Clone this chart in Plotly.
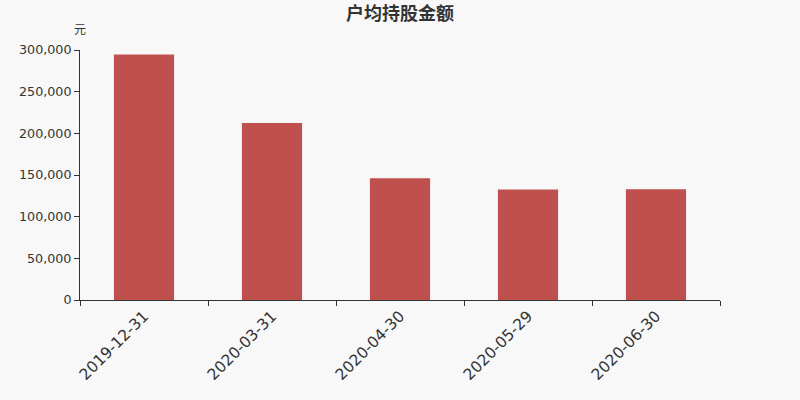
import plotly.graph_objects as go

dates = ["2019-12-31", "2020-03-31", "2020-04-30", "2020-05-29", "2020-06-30"]
amounts = [294500, 212300, 146000, 132600, 133000]

fig = go.Figure()
fig.add_trace(go.Bar(x=dates, y=amounts, marker_color="#c0504d",
                     marker_line_width=0, width=0.47))

fig.update_layout(
    width=800, height=400,
    margin=dict(l=80, r=80, t=50, b=100),
    paper_bgcolor="#f8f8f8", plot_bgcolor="#f8f8f8",
    font=dict(family="DejaVu Sans, Noto Sans CJK SC", color="#333333", size=12),
    title=dict(text="<b>户均持股金额</b>", x=0.5, xanchor="center", y=0.965, yanchor="middle",
               font=dict(family="Noto Sans CJK SC", size=18, color="#333333")),
    showlegend=False,
)
fig.update_xaxes(type="category", tickangle=-45, tickson="boundaries",
                 ticks="outside", ticklen=5, tickcolor="#333333",
                 showline=True, linecolor="#333333", linewidth=1,
                 showgrid=False, tickfont=dict(size=15.5, color="#333333"))
fig.update_yaxes(range=[0, 300000], dtick=50000, tickformat=",",
                 ticks="outside", ticklen=5, tickcolor="#333333",
                 showline=True, linecolor="#333333", linewidth=1,
                 showgrid=False, zeroline=False, tickfont=dict(size=12.7, color="#333333"))
fig.add_annotation(text="元", xref="paper", yref="paper", x=0, y=1.0, yshift=22,
                   xanchor="center", yanchor="middle", showarrow=False,
                   font=dict(family="Noto Sans CJK SC", size=12, color="#333333"))

fig.write_html("out.html", config={"displayModeBar": False},
               post_script="document.body.style.margin='0';document.body.style.background='#f8f8f8';")
